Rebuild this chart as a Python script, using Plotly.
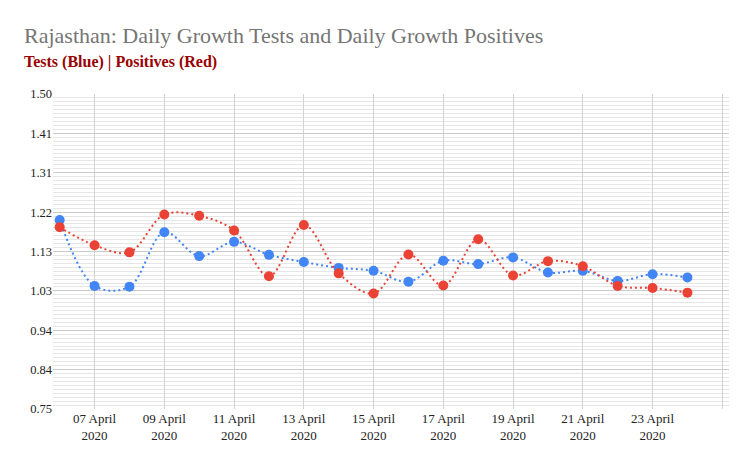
import plotly.graph_objects as go

dates = ["2020-04-%02d" % d for d in range(6, 25)]
tests = [1.200, 1.043, 1.041, 1.171, 1.114, 1.148, 1.117, 1.100, 1.086, 1.079,
         1.053, 1.103, 1.095, 1.111, 1.075, 1.079, 1.055, 1.071, 1.063]
positives = [1.183, 1.140, 1.123, 1.213, 1.210, 1.175, 1.066, 1.188, 1.073, 1.025,
             1.118, 1.044, 1.154, 1.068, 1.102, 1.090, 1.043, 1.038, 1.027]

x_tickvals = ["2020-04-07", "2020-04-09", "2020-04-11", "2020-04-13", "2020-04-15",
              "2020-04-17", "2020-04-19", "2020-04-21", "2020-04-23", "2020-04-25"]
x_ticktext = ["07 April<br>2020", "09 April<br>2020", "11 April<br>2020", "13 April<br>2020",
              "15 April<br>2020", "17 April<br>2020", "19 April<br>2020", "21 April<br>2020",
              "23 April<br>2020", ""]
y_tickvals = [0.75, 0.84375, 0.9375, 1.03125, 1.125, 1.21875, 1.3125, 1.40625, 1.5]
y_ticktext = ["0.75", "0.84", "0.94", "1.03", "1.13", "1.22", "1.31", "1.41", "1.50"]

title_text = "Rajasthan: Daily Growth Tests and Daily Growth Positives"
subtitle_text = "<b>Tests (Blue) | Positives (Red)</b>"

BLUE = "#4285F4"
RED = "#EA4335"
SERIF = "Liberation Serif"

fig = go.Figure()
fig.add_trace(go.Scatter(
    x=dates, y=tests, mode="lines+markers", name="Tests",
    line=dict(color=BLUE, width=2, dash="2px,3px", shape="spline", smoothing=1),
    marker=dict(color=BLUE, size=10),
))
fig.add_trace(go.Scatter(
    x=dates, y=positives, mode="lines+markers", name="Positives",
    line=dict(color=RED, width=2, dash="2px,3px", shape="spline", smoothing=1),
    marker=dict(color=RED, size=10),
))

fig.update_layout(
    width=753, height=465,
    margin=dict(l=53, r=24, t=94, b=56),
    paper_bgcolor="white", plot_bgcolor="white",
    showlegend=False,
    font=dict(family=SERIF, color="#222222"),
    xaxis=dict(
        type="date",
        range=["2020-04-05 19:24", "2020-04-25 04:36"],
        tickmode="array", tickvals=x_tickvals, ticktext=x_ticktext,
        showgrid=True, gridcolor="#d4d4d4", gridwidth=1,
        zeroline=False, showline=False, ticks="",
        tickfont=dict(family=SERIF, size=13, color="#222222"),
    ),
    yaxis=dict(
        range=[0.75, 1.5],
        tickmode="array", tickvals=y_tickvals, ticktext=y_ticktext,
        showgrid=True, gridcolor="#cccccc", gridwidth=1,
        zeroline=False, showline=False, ticks="",
        tickfont=dict(family=SERIF, size=12.5, color="#222222"),
        minor=dict(tickmode="linear", tick0=0.75, dtick=0.009375,
                   showgrid=True, gridcolor="#e6e6e6", gridwidth=1),
    ),
    annotations=[
        dict(text=title_text, xref="paper", yref="paper", x=-0.0459, y=1.1854,
             xanchor="left", yanchor="middle", showarrow=False,
             font=dict(family=SERIF, size=22, color="#757575")),
        dict(text=subtitle_text, xref="paper", yref="paper", x=-0.0459, y=1.1011,
             xanchor="left", yanchor="middle", showarrow=False,
             font=dict(family=SERIF, size=16, color="#990000")),
    ],
)

fig.write_html("out.html", config={"displayModeBar": False},
               post_script="document.body.style.margin='0px';")
